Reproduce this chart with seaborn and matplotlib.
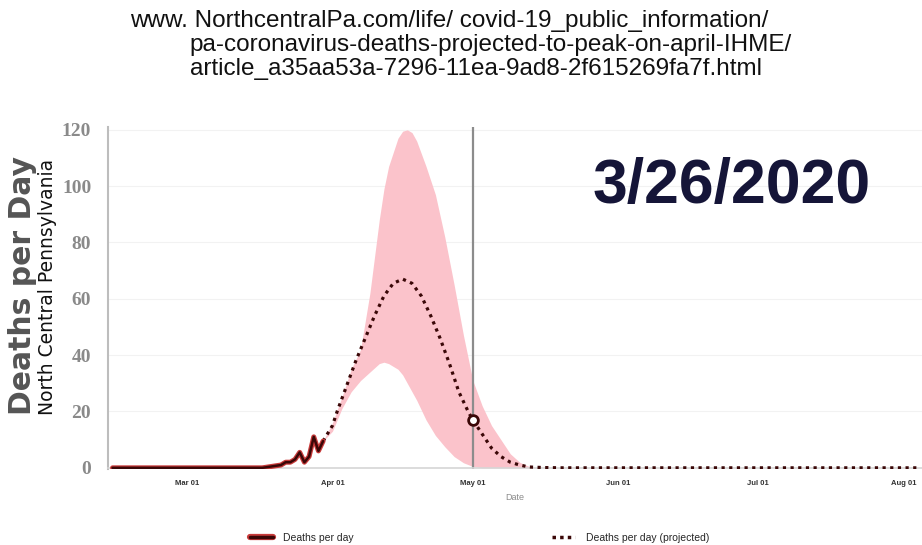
import pandas as pd
import numpy as np
import matplotlib
matplotlib.use('Agg')
import matplotlib.pyplot as plt
import matplotlib.dates as mdates
import matplotlib.patheffects as pe
from matplotlib.lines import Line2D
import seaborn as sns

# ---- data ----
obs_dates = ['2020-02-14', '2020-03-17', '2020-03-19', '2020-03-21', '2020-03-22',
             '2020-03-23', '2020-03-24', '2020-03-25', '2020-03-26', '2020-03-27',
             '2020-03-28', '2020-03-29', '2020-03-30']
obs_deaths = [0, 0, 0.5, 1, 2, 2, 3, 5.5, 2, 4, 11, 6, 9.5]

proj_dates = ['2020-03-30', '2020-04-01', '2020-04-02', '2020-04-04', '2020-04-06',
              '2020-04-08', '2020-04-10', '2020-04-12', '2020-04-14', '2020-04-16',
              '2020-04-18', '2020-04-20', '2020-04-22', '2020-04-24', '2020-04-26',
              '2020-04-28', '2020-04-30', '2020-05-01', '2020-05-03', '2020-05-05',
              '2020-05-07', '2020-05-09', '2020-05-11', '2020-05-13', '2020-05-16',
              '2020-05-20', '2020-08-04']
proj_deaths = [9.5, 15, 20, 29, 38, 46, 54, 61, 65.5, 67, 65.5, 61, 54, 46, 37,
               27, 20, 17, 12, 7, 4, 2, 1, 0.3, 0.1, 0, 0]

band_dates = ['2020-03-30', '2020-04-01', '2020-04-03', '2020-04-05', '2020-04-07',
              '2020-04-09', '2020-04-11', '2020-04-12', '2020-04-13', '2020-04-15',
              '2020-04-16', '2020-04-17', '2020-04-18', '2020-04-19', '2020-04-21',
              '2020-04-23', '2020-04-25', '2020-04-27', '2020-04-29', '2020-05-01',
              '2020-05-03', '2020-05-05', '2020-05-07', '2020-05-09', '2020-05-11',
              '2020-05-13', '2020-05-15']
band_upper = [9.5, 16, 25, 35, 42, 62, 88, 99, 107, 117, 119.5, 120, 119, 116, 107,
              97, 82, 65, 47, 31, 22, 15, 10, 5, 2, 0.5, 0]
band_lower = [9.5, 13, 21, 27, 31, 34, 37, 37.5, 37, 35, 33, 30, 27, 24, 17,
              11.5, 7.5, 4, 1.8, 0.5, 0, 0, 0, 0, 0, 0, 0]

today_date = '2020-05-01'
today_value = 17

yticks = [0, 20, 40, 60, 80, 100, 120]
month_ticks = ['2020-03-01', '2020-04-01', '2020-05-01', '2020-06-01', '2020-07-01', '2020-08-01']

url_lines = ['www. NorthcentralPa.com/life/ covid-19_public_information/',
             'pa-coronavirus-deaths-projected-to-peak-on-april-IHME/',
             'article_a35aa53a-7296-11ea-9ad8-2f615269fa7f.html']

obs = pd.DataFrame({'date': pd.to_datetime(obs_dates), 'deaths': obs_deaths})
proj = pd.DataFrame({'date': pd.to_datetime(proj_dates), 'deaths': proj_deaths})
band = pd.DataFrame({'date': pd.to_datetime(band_dates), 'lo': band_lower, 'hi': band_upper})

sns.set_style('white')
plt.rcParams['font.family'] = ['Liberation Sans', 'DejaVu Sans']

fig = plt.figure(figsize=(9.22, 5.45), dpi=100)
ax = fig.add_axes([0.117, 0.139, 0.883, 0.628])

dark = '#3a0707'
ax.fill_between(band['date'], band['lo'], band['hi'], color='#fbc3cb', lw=0, zorder=1)

sns.lineplot(data=proj, x='date', y='deaths', ax=ax, color=dark, lw=2.3,
             linestyle=(0, (1, 1.4)), legend=False, zorder=3)
sns.lineplot(data=obs, x='date', y='deaths', ax=ax, color=dark, lw=1.8, legend=False, zorder=4,
             path_effects=[pe.Stroke(linewidth=3.6, foreground='#c83a3a'), pe.Normal()])

ax.axvline(pd.to_datetime(today_date), color='#8c8c8c', lw=1.6, zorder=2)
ax.plot(pd.to_datetime(today_date), today_value, 'o', ms=7, mfc='white', mec=dark, mew=2, zorder=5)

# faint gridlines
for v in yticks[1:]:
    ax.axhline(v, color='#f2f2f2', lw=0.8, zorder=0)

ax.set_xlim(pd.to_datetime('2020-02-13'), pd.to_datetime('2020-08-05'))
ax.set_ylim(-0.5, 121)
ax.set_yticks(yticks)
ax.set_xticks(pd.to_datetime(month_ticks))
ax.xaxis.set_major_formatter(mdates.DateFormatter('%b %d'))

for s in ['top', 'right']:
    ax.spines[s].set_visible(False)
ax.spines['left'].set_color('#bdbdbd')
ax.spines['left'].set_linewidth(1.5)
ax.spines['bottom'].set_color('#d6d6d6')
ax.spines['bottom'].set_linewidth(1.2)
ax.spines['bottom'].set_position(('data', 0))

ax.tick_params(axis='y', length=6, width=1.2, color='#bdbdbd', pad=6)
ax.tick_params(axis='x', length=0, pad=9)
for lab in ax.get_yticklabels():
    lab.set_family('Liberation Serif')
    lab.set_fontweight('bold')
    lab.set_fontsize(14)
    lab.set_color('#8a8a8a')
for lab in ax.get_xticklabels():
    lab.set_fontsize(5.5)
    lab.set_fontweight('bold')
    lab.set_color('#333333')

ax.set_xlabel('Date', fontsize=6.5, color='#8a8a8a', labelpad=4)
ax.set_ylabel('')

fig.text(0.024, 0.477, 'Deaths per Day', rotation=90, ha='center', va='center',
         fontsize=21.5, fontweight='bold', color='#555555', family='DejaVu Sans')
fig.text(0.051, 0.473, 'North Central Pennsylvania', rotation=90, ha='center', va='center',
         fontsize=13.5, color='#111111', family='DejaVu Sans')

# source url
fig.text(0.141, 0.961, url_lines[0], fontsize=17.5, color='#111111', va='center')
fig.text(0.206, 0.917, url_lines[1], fontsize=17.5, color='#111111', va='center')
fig.text(0.206, 0.873, url_lines[2], fontsize=17.5, color='#111111', va='center')

fig.text(0.794, 0.657, '3/26/2020', ha='center', va='center',
         fontsize=45, fontweight='bold', color='#151538')

h_obs = Line2D([], [], color=dark, lw=2.5,
               path_effects=[pe.Stroke(linewidth=4.5, foreground='#c83a3a'), pe.Normal()])
h_proj = Line2D([], [], color=dark, lw=2.5, linestyle=(0, (1, 1.2)))
leg1 = fig.legend([h_obs], ['Deaths per day'], loc='center left', bbox_to_anchor=(0.271, 0.013),
                  frameon=False, fontsize=7.5, handlelength=2.2, handletextpad=1.0,
                  borderpad=0, borderaxespad=0)
leg2 = fig.legend([h_proj], ['Deaths per day (projected)'], loc='center left',
                  bbox_to_anchor=(0.599, 0.013), frameon=False, fontsize=7.5,
                  handlelength=2.2, handletextpad=1.0, borderpad=0, borderaxespad=0)

fig.savefig('out.png', dpi=100)
